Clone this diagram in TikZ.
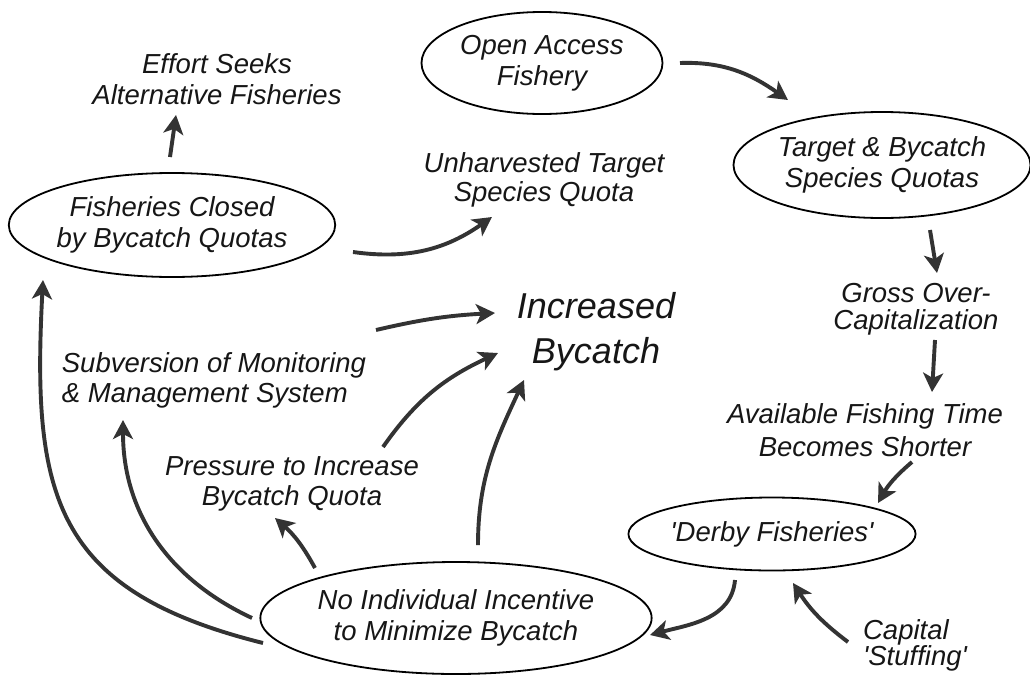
\documentclass[tikz,border=0pt]{standalone}
\usepackage{fontspec}
\setmainfont{Liberation Sans}
\usepackage{xcolor}
\usetikzlibrary{arrows.meta, shapes.geometric, calc}
\definecolor{C_ARR}{HTML}{333333}
\definecolor{C_TXT}{HTML}{161616}
\tikzset{
  %% -- ellipse boxes --
  BC/oval/.style={
    draw=black, line width=1.8pt, ellipse, inner sep=0pt,
    align=center, text=C_TXT,
    font=\fontsize{27.5}{31}\selectfont\itshape
  },
  %% -- free text (argument: line spacing) --
  BC/txt/.style={
    align=center, text=C_TXT,
    font=\fontsize{27.5}{#1}\selectfont\itshape
  },
  BC/txt/.default=31,
  %% -- central text --
  BC/big/.style={
    align=center, text=C_TXT,
    font=\fontsize{36}{45}\selectfont\itshape
  },
  %% -- thick grey arrow --
  BC/arr/.style={-{Stealth[length=19pt, width=20pt, inset=5pt]},
    line width=3.9pt, color=C_ARR},
}

\begin{document}
\begin{tikzpicture}[x=1pt, y=1pt]
\useasboundingbox (0,0) rectangle (1030,-675);

%% Nodes
\node[BC/oval, minimum width=241pt, minimum height=102pt]
  (open) at (542,-63) {Open Access\\Fishery};
\node[BC/oval, minimum width=297pt, minimum height=106pt]
  (target) at (882,-165) {Target \& Bycatch\\Species Quotas};
\node[BC/oval, minimum width=321pt, minimum height=104pt]
  (fclosed) at (172,-225) {Fisheries Closed\\by Bycatch Quotas};
\node[BC/oval, minimum width=269pt, minimum height=73pt]
  (derby) at (772,-534) {\textquotesingle Derby Fisheries\textquotesingle};
\node[BC/oval, minimum width=363pt, minimum height=112pt]
  (noind) at (456,-618) {No Individual Incentive\\to Minimize Bycatch};

\node[BC/txt]     (effort)  at (217,-79)  {Effort Seeks\\Alternative Fisheries};
\node[BC/txt=29]  (unharv)  at (544,-180) {Unharvested Target\\Species Quota};
\node[BC/big]     (incr)    at (596,-332) {Increased\\Bycatch};
\node[BC/txt=27]  (gross)   at (916,-309) {Gross Over-\\Capitalization};
\node[BC/txt=33]  (avail)   at (865,-430) {Available Fishing Time\\Becomes Shorter};
\node[BC/txt=30, align=left] (subv) at (214,-380)
  {Subversion of Monitoring\\\& Management System};
\node[BC/txt=30]  (press)   at (292,-484) {Pressure to Increase\\Bycatch Quota};
\node[BC/txt=26, align=left] (capital) at (915,-645)
  {Capital\\\textquotesingle Stuffing\textquotesingle};

%% Main loop on the right
\draw[BC/arr] ($(open)+(138,0)$) to[out=2, in=145] ($(target)+(-94,65)$);
\draw[BC/arr] ($(target)+(48,-65)$) -- ($(gross)+(21,36)$);
\draw[BC/arr] ($(gross)+(19,-31)$) -- ($(avail)+(67,38)$);
\draw[BC/arr] ($(avail)+(47,-32)$) to[bend right=10] ($(derby)+(106,31)$);
\draw[BC/arr] ($(capital)+(-67,3)$) to[bend left=10] ($(derby)+(21,-49)$);
\draw[BC/arr] ($(derby)+(-37,-46)$) to[out=-95, in=15] ($(noind)+(194,-17)$);

%% Closed fisheries
\draw[BC/arr] ($(fclosed)+(-2,68)$) -- ($(effort)+(-41,-36)$);
\draw[BC/arr] ($(fclosed)+(181,-27)$) to[out=-8, in=215] ($(unharv)+(-52,-37)$);

%% Into increased bycatch
\draw[BC/arr] ($(subv)+(162,50)$) to[bend left=5] ($(incr)+(-101,19)$);
\draw[BC/arr] ($(press)+(91,37)$) to[out=55, in=205] ($(incr)+(-98,-21)$);
\draw[BC/arr] ($(noind)+(22,73)$) to[out=90, in=245] ($(incr)+(-72,-48)$);

%% Out of no individual incentive
\draw[BC/arr] ($(noind)+(-141,50)$) to[bend right=10] ($(press)+(-17,-34)$);
\draw[BC/arr] ($(noind)+(-204,0)$) to[out=155, in=270] ($(subv)+(-91,-40)$);
\draw[BC/arr] ($(noind)+(-193,-25)$) to[out=166, in=267, looseness=1.3]
  ($(fclosed)+(-129,-55)$);
\end{tikzpicture}
\end{document}
